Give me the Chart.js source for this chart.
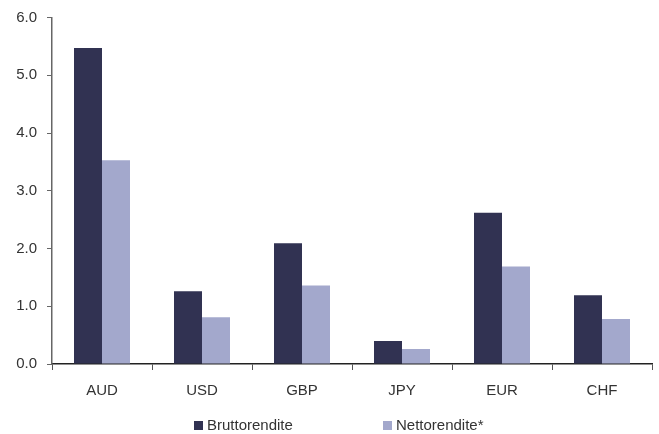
<!DOCTYPE html>
<html>
<head>
<meta charset="utf-8">
<script src="https://cdn.jsdelivr.net/npm/chart.js@4/dist/chart.umd.min.js"></script>
<style>
  html, body { margin: 0; padding: 0; background: #fff; }
  #wrap { position: relative; width: 659px; height: 434px; }
  #legend { position: absolute; top: 416px; left: 0; width: 659px; height: 18px;
    font-family: "Liberation Sans", Arial, sans-serif; font-size: 15px; color: #333; }
  .item { position: absolute; top: 0; line-height: 18px; white-space: nowrap; }
  .box { display: inline-block; width: 9px; height: 9px; margin-right: 4px; vertical-align: 0px; }
</style>
</head>
<body>
<div id="wrap">
  <canvas id="chart"></canvas>
  <div id="legend"></div>
</div>
<script>
const categories = ["AUD", "USD", "GBP", "JPY", "EUR", "CHF"];
const brutto = [5.47, 1.26, 2.09, 0.40, 2.62, 1.19];
const netto = [3.53, 0.81, 1.36, 0.26, 1.69, 0.78];
const seriesNames = ["Bruttorendite", "Nettorendite*"];
const seriesColors = ["#313252", "#a3a8cc"];

const font = { family: "'Liberation Sans', Arial, sans-serif", size: 15, lineHeight: 1 };

new Chart(document.getElementById("chart"), {
  type: "bar",
  data: {
    labels: categories,
    datasets: [
      { label: seriesNames[0], data: brutto, backgroundColor: seriesColors[0] },
      { label: seriesNames[1], data: netto, backgroundColor: seriesColors[1] },
    ],
  },
  options: {
    responsive: true,
    maintainAspectRatio: false,
    animation: false,
    layout: { padding: { top: 16, right: 7, bottom: 0, left: 0 } },
    datasets: {
      bar: { categoryPercentage: 0.56, barPercentage: 1, borderWidth: 0 },
    },
    plugins: {
      legend: { display: false },
      tooltip: { enabled: false },
    },
    scales: {
      x: {
        afterFit: (scale) => { scale.height = 70; },
        grid: { drawOnChartArea: false, tickLength: 6, color: "#555", offset: true },
        border: { color: "#222", width: 1.5 },
        ticks: { color: "#333", font: font, padding: 13 },
      },
      y: {
        min: 0,
        max: 6,
        afterFit: (scale) => { scale.width = 52; },
        grid: { drawOnChartArea: false, tickLength: 5, color: "#666" },
        border: { color: "#666", width: 1.5 },
        ticks: {
          stepSize: 1,
          color: "#333",
          font: font,
          padding: 10,
          callback: (v) => v.toFixed(1),
        },
      },
    },
  },
});

// legend below the plot
const legendPos = [194, 383];
const legend = document.getElementById("legend");
seriesNames.forEach((name, i) => {
  const item = document.createElement("div");
  item.className = "item";
  item.style.left = legendPos[i] + "px";
  item.innerHTML = '<span class="box" style="background:' + seriesColors[i] + '"></span>' + name;
  legend.appendChild(item);
});
</script>
</body>
</html>
